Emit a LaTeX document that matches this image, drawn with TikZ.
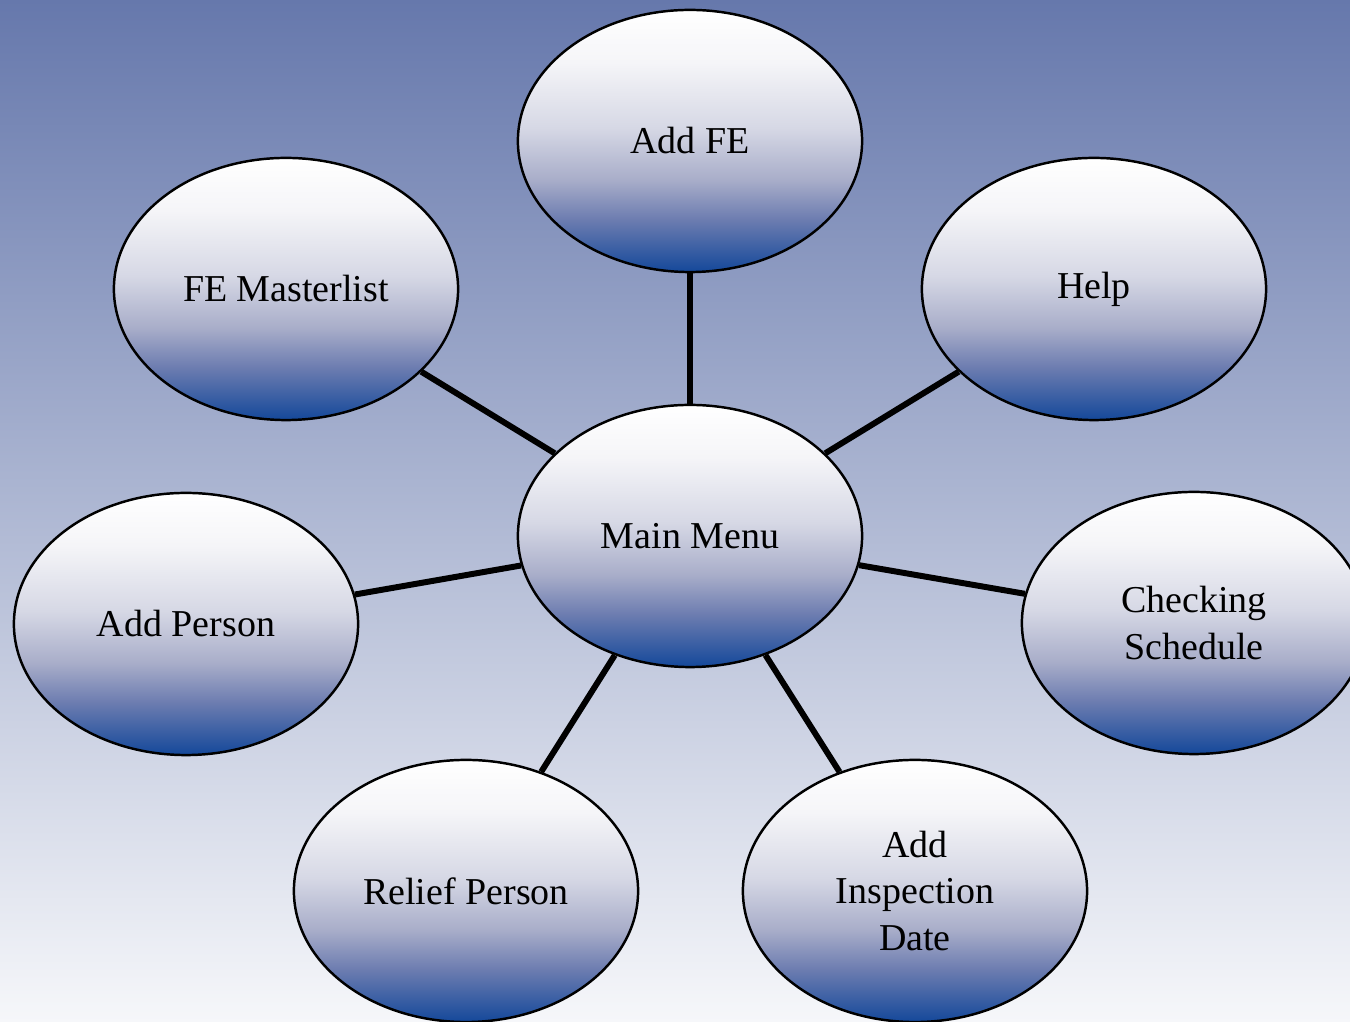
\documentclass[tikz,border=0pt]{standalone}
\usepackage{fontspec}
\setmainfont{Liberation Serif}
\usetikzlibrary{shapes.geometric}
\definecolor{bgtop}{RGB}{102,120,172}
\definecolor{bgmid}{RGB}{192,196,218}
\definecolor{bgbot}{RGB}{246,247,250}
\definecolor{shadeA}{RGB}{20,72,154}
\definecolor{shadeB}{RGB}{108,124,176}
\definecolor{shadeC}{RGB}{168,173,201}
\definecolor{shadeD}{RGB}{214,216,229}
\definecolor{shadeE}{RGB}{245,245,248}
\pgfdeclareverticalshading{menushade}{100bp}{
  color(0bp)=(shadeA); color(25bp)=(shadeA); color(35bp)=(shadeB);
  color(42.5bp)=(shadeC); color(52.5bp)=(shadeD); color(65bp)=(shadeE);
  color(75bp)=(white); color(100bp)=(white)}
\begin{document}
\begin{tikzpicture}[x=0.01cm, y=-0.01cm,
  menu/.style={ellipse, draw, line width=0.7pt, minimum width=3.44cm, minimum height=2.62cm,
    inner sep=0pt, align=center, shading=menushade,
    font=\fontsize{10.8pt}{13.2pt}\selectfont},
  link/.style={line width=1.7pt}]
\useasboundingbox (0,0) rectangle (1350,1022);
\shade[top color=bgtop, middle color=bgmid, bottom color=bgbot] (0,0) rectangle (1350,1022);
\clip (0,0) rectangle (1350,1022);

\node[menu] (main) at (690,536) {Main Menu};
\node[menu] (addfe) at (690,141) {Add FE};
\node[menu] (help) at (1094,289) {Help};
\node[menu] (master) at (286,289) {FE Masterlist};
\node[menu] (person) at (186,624) {Add Person};
\node[menu] (check) at (1194,623) {Checking\\ Schedule};
\node[menu] (relief) at (466,891) {Relief Person};
\node[menu] (inspect) at (915,891) {Add\\Inspection\\ Date};

\foreach \n in {addfe, help, master, person, check, relief, inspect}
  \draw[link] (main) -- (\n);
\end{tikzpicture}
\end{document}
